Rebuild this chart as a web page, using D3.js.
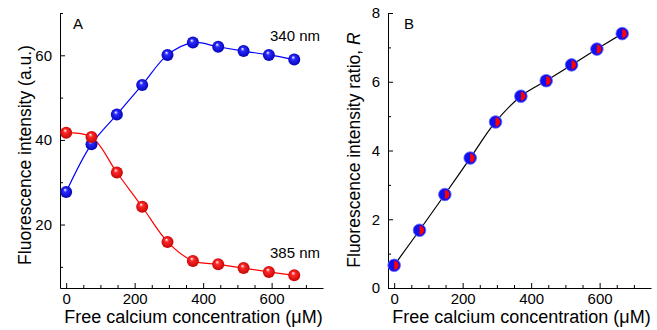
<!DOCTYPE html>
<html>
<head>
<meta charset="utf-8">
<script src="https://cdn.jsdelivr.net/npm/d3@7"></script>
<style>
  body { margin: 0; background: #fff; }
  svg { font-family: "Liberation Sans", Arial, sans-serif; }
  .axis path, .axis line { stroke: #000; stroke-width: 1; }
  .axis text { font-size: 15px; fill: #000; }
</style>
</head>
<body>
<svg id="chart" width="657" height="330"></svg>
<script>
// calcium concentration (uM), same for both panels
const calcium = [0, 74, 148, 222, 296, 370, 444, 518, 592, 666];
// panel A
const intensity340 = [27.7, 39.0, 46.0, 53.0, 60.1, 63.0, 62.0, 61.0, 60.1, 59.0];
const intensity385 = [41.7, 40.7, 32.3, 24.2, 15.9, 11.4, 10.6, 9.7, 8.8, 8.0];
// panel B
const ratio = [0.66, 1.68, 2.72, 3.78, 4.83, 5.58, 6.03, 6.49, 6.95, 7.40];

const xTicks = [0, 200, 400, 600];
const xMinor = [50, 100, 150, 250, 300, 350, 450, 500, 550, 650, 700];
const yTicksA = [20, 40, 60];
const yMinorA = [10, 30, 50, 70];
const yTicksB = [0, 2, 4, 6, 8];
const yMinorB = [1, 3, 5, 7];

const svg = d3.select("svg#chart");

// gradients for shaded balls
const defs = svg.append("defs");
function ballGradient(id, base, dark) {
    const g = defs.append("radialGradient")
        .attr("id", id)
        .attr("cx", "50%").attr("cy", "50%").attr("r", "55%")
        .attr("fx", "40%").attr("fy", "30%");
    g.append("stop").attr("offset", "0%").attr("stop-color", "#fff");
    g.append("stop").attr("offset", "30%").attr("stop-color", base);
    g.append("stop").attr("offset", "100%").attr("stop-color", dark);
}
ballGradient("blueBall", "#2a2aff", "#0000b0");
ballGradient("redBall", "#ff2a2a", "#c00000");

function panel(left, right, yDomain, yTicks, yMinor) {
    const x = d3.scaleLinear().domain([-18, 750]).range([left, right]);
    const y = d3.scaleLinear().domain(yDomain).range([288, 13]);

    const g = svg.append("g");

    // AXES
    g.append("g").attr("class", "axis")
        .attr("transform", "translate(0,288)")
        .call(d3.axisBottom(x).tickValues(xTicks).tickSizeInner(-5).tickSizeOuter(0).tickPadding(5))
        .call(a => a.selectAll("text").attr("dy", "0.71em"));
    g.append("g").attr("class", "axis")
        .attr("transform", "translate(0,288)")
        .call(d3.axisBottom(x).tickValues(xMinor).tickSize(-3).tickFormat(""))
        .call(a => a.select(".domain").remove());

    g.append("g").attr("class", "axis")
        .attr("transform", `translate(${left},0)`)
        .call(d3.axisLeft(y).tickValues(yTicks).tickSizeInner(-5).tickSizeOuter(0).tickPadding(8));
    g.append("g").attr("class", "axis")
        .attr("transform", `translate(${left},0)`)
        .call(d3.axisLeft(y).tickValues(yMinor).tickSize(-3).tickFormat(""))
        .call(a => a.select(".domain").remove());

    g.append("text")
        .attr("x", (left + right) / 2 + 2)
        .attr("y", 323)
        .attr("text-anchor", "middle")
        .attr("font-size", 18)
        .text("Free calcium concentration (μM)");

    return { g, x, y };
}

// PANEL A
const a = panel(60, 323, [5, 70], yTicksA, yMinorA);

const lineA = d3.line()
    .x((d, i) => a.x(calcium[i]))
    .y(d => a.y(d))
    .curve(d3.curveCatmullRom.alpha(0.5));

a.g.append("path").datum(intensity340)
    .attr("fill", "none").attr("stroke", "#0000ff").attr("stroke-width", 1.2)
    .attr("d", lineA);
a.g.append("path").datum(intensity385)
    .attr("fill", "none").attr("stroke", "#ff0000").attr("stroke-width", 1.2)
    .attr("d", lineA);

a.g.selectAll("circle.c340").data(intensity340).join("circle")
    .attr("class", "c340")
    .attr("cx", (d, i) => a.x(calcium[i]))
    .attr("cy", d => a.y(d))
    .attr("r", 6)
    .attr("fill", "url(#blueBall)");
a.g.selectAll("circle.c385").data(intensity385).join("circle")
    .attr("class", "c385")
    .attr("cx", (d, i) => a.x(calcium[i]))
    .attr("cy", d => a.y(d))
    .attr("r", 6)
    .attr("fill", "url(#redBall)");

a.g.append("text").attr("x", 73).attr("y", 29).attr("font-size", 15).text("A");
a.g.append("text").attr("x", 270).attr("y", 41).attr("font-size", 15).text("340 nm");
a.g.append("text").attr("x", 270).attr("y", 258).attr("font-size", 15).text("385 nm");
a.g.append("text")
    .attr("transform", "translate(31,155) rotate(-90)")
    .attr("text-anchor", "middle")
    .attr("font-size", 17.5)
    .text("Fluorescence intensity (a.u.)");

// PANEL B
const b = panel(388, 651, [0, 8], yTicksB, yMinorB);

const lineB = d3.line()
    .x((d, i) => b.x(calcium[i]))
    .y(d => b.y(d))
    .curve(d3.curveCatmullRom.alpha(0.5));

b.g.append("path").datum(ratio)
    .attr("fill", "none").attr("stroke", "#000").attr("stroke-width", 1.2)
    .attr("d", lineB);

const dots = b.g.selectAll("g.dot").data(ratio).join("g")
    .attr("class", "dot")
    .attr("transform", (d, i) => `translate(${b.x(calcium[i])},${b.y(d)})`);
dots.append("circle").attr("r", 6.3).attr("fill", "#1010f0").attr("stroke", "#6a6aff").attr("stroke-width", 0.8);
dots.append("path")
    .attr("d", d3.arc()({ innerRadius: 0, outerRadius: 4.5, startAngle: 0, endAngle: Math.PI }))
    .attr("fill", "#ff0000");

b.g.append("text").attr("x", 404).attr("y", 29).attr("font-size", 15).text("B");
const ty = b.g.append("text")
    .attr("transform", "translate(360,150) rotate(-90)")
    .attr("text-anchor", "middle")
    .attr("font-size", 17.5);
ty.append("tspan").text("Fluorescence intensity ratio, ");
ty.append("tspan").attr("font-style", "italic").text("R");
</script>
</body>
</html>
